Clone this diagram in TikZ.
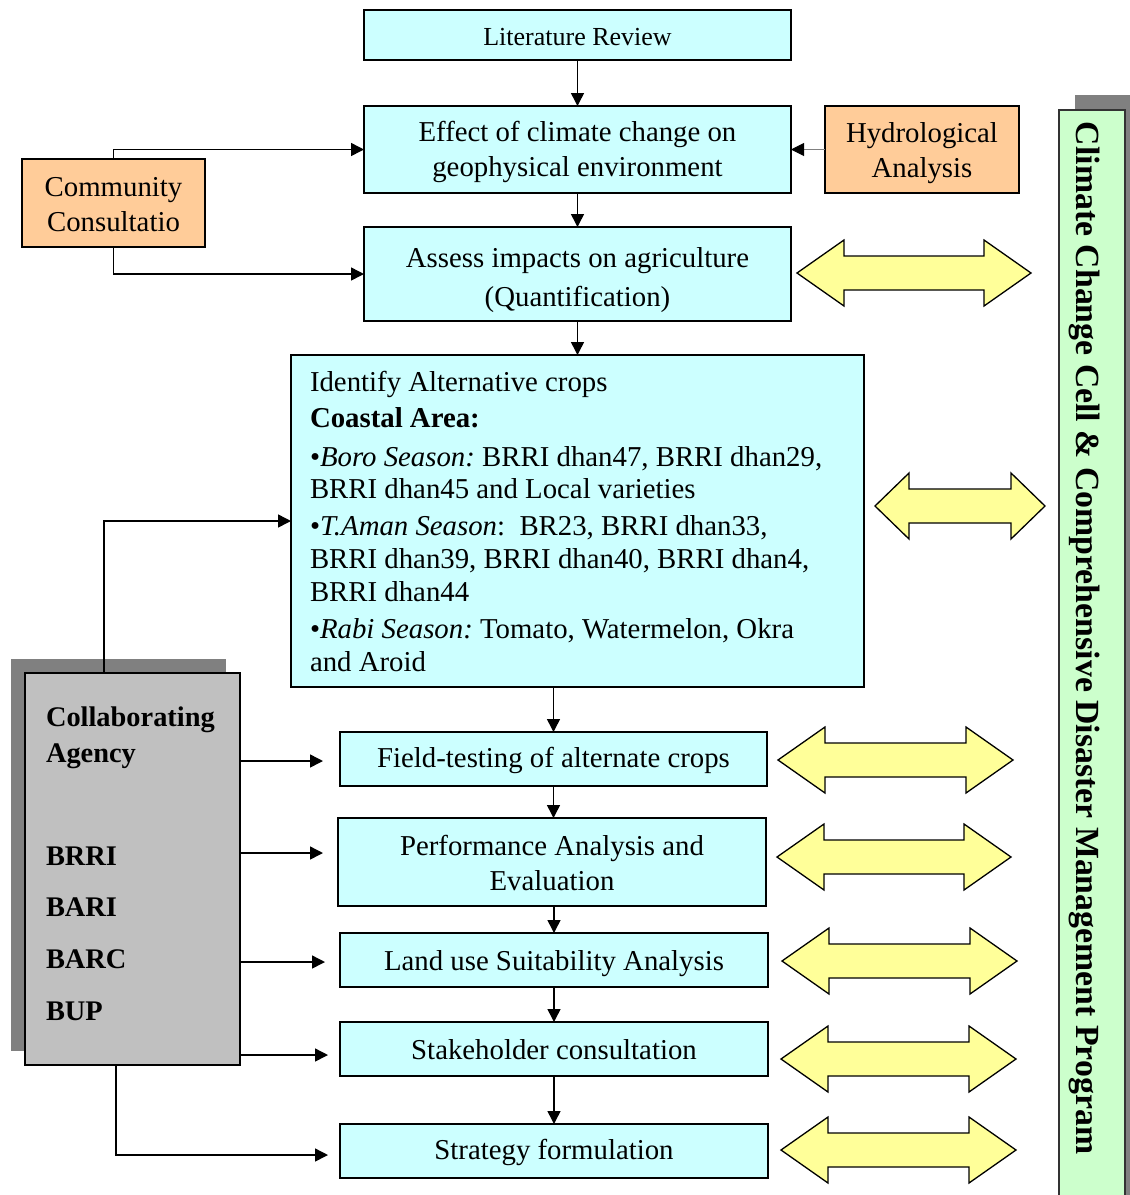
\documentclass[tikz,border=0pt]{standalone}
\usepackage{fontspec}
\setmainfont{Liberation Serif}
\usetikzlibrary{arrows.meta,calc}
\definecolor{cyanbox}{HTML}{CCFFFF}
\definecolor{orangebox}{HTML}{FFCC99}
\definecolor{yellowarr}{HTML}{FFFF99}
\definecolor{greenbar}{HTML}{CCFFCC}
\definecolor{greybox}{HTML}{C0C0C0}
\definecolor{shadowgrey}{HTML}{808080}
\newcommand\yarrow[4]{% left tip x, right tip x, centre y, head length
  \draw[dblarr] (#1,#3) -- ({#1+#4},{#3-33}) -- ({#1+#4},{#3-17}) -- ({#2-#4},{#3-17})
    -- ({#2-#4},{#3-33}) -- (#2,#3) -- ({#2-#4},{#3+33}) -- ({#2-#4},{#3+17})
    -- ({#1+#4},{#3+17}) -- ({#1+#4},{#3+33}) -- cycle;}
\newcommand\tstrut[1]{\rule{0pt}{#1pt}}
\begin{document}
\begin{tikzpicture}[x=1pt,y=-1pt,
  every node/.style={inner sep=0pt, outer sep=0pt},
  box/.style={draw=black, line width=1.5pt, fill=cyanbox, align=center,
    font=\fontsize{28.8}{35}\selectfont},
  obox/.style={box, fill=orangebox},
  conn/.style={line width=1.5pt, -{Triangle[length=13pt,width=13pt]}},
  dblarr/.style={draw=black, line width=1.3pt, fill=yellowarr, line join=miter},
]
\useasboundingbox (0,0) rectangle (1130,1195);
\clip (0,0) rectangle (1130,1195);

% right bar
\fill[shadowgrey] (1075,95) rectangle (1150,1220);
\node[draw=black!80, line width=1.3pt, fill=greenbar, minimum width=66pt,
  minimum height=1110pt, anchor=north west] (ccbar) at (1059,110) {};
\node[rotate=-90, font=\fontsize{33.8}{40}\selectfont\bfseries] (cctext) at (1084,638)
  {Climate Change Cell \& Comprehensive Disaster Management Program};

% top boxes
\node[box, minimum width=427pt, minimum height=50pt, font=\fontsize{26}{30}\selectfont]
  (lit) at (577.5,35) {\tstrut{21}Literature Review};
\node[box, minimum width=427pt, minimum height=87pt] (effect) at (577.5,149.5)
  {\tstrut{26}Effect of climate change on\\geophysical environment};
\node[obox, minimum width=194pt, minimum height=87pt] (hydro) at (922,149.5)
  {\tstrut{28}Hydrological\\Analysis};
\node[obox, minimum width=183pt, minimum height=88pt] (comm) at (113.5,203)
  {\tstrut{23}Community\\Consultatio};
\node[box, minimum width=427pt, minimum height=94pt] (assess) at (577.5,274)
  {\tstrut{32}Assess impacts on agriculture\\[4pt](Quantification)};

% identify box
\node[box, minimum width=573pt, minimum height=332pt, text width=535pt, align=flush left,
  font=\fontsize{28.8}{32.5}\selectfont] (ident) at (577.5,521)
  {\spaceskip=0pt\xspaceskip=0pt\frenchspacing
   Identify Alternative crops\\[4pt]
   \textbf{Coastal Area:}\\[6pt]
   •\textit{Boro Season:} BRRI dhan47, BRRI dhan29,\\
   BRRI dhan45 and Local varieties\\[4pt]
   •\textit{T.Aman Season}:\ \ BR23, BRRI dhan33,\\[1pt]
   BRRI dhan39, BRRI dhan40, BRRI dhan4,\\
   BRRI dhan44\\[5pt]
   •\textit{Rabi Season:} Tomato, Watermelon, Okra\\
   and Aroid};

% lower chain
\node[box, minimum width=427pt, minimum height=54pt] (field) at (553.5,759)
  {\tstrut{24}Field-testing of alternate crops};
\node[box, minimum width=428pt, minimum height=88pt] (perf) at (552,862)
  {\tstrut{22}Performance Analysis and\\Evaluation};
\node[box, minimum width=428pt, minimum height=54pt] (land) at (554,960)
  {\tstrut{28}Land use Suitability Analysis};
\node[box, minimum width=428pt, minimum height=54pt] (stake) at (554,1049)
  {\tstrut{22}Stakeholder consultation};
\node[box, minimum width=428pt, minimum height=54pt] (strat) at (554,1151)
  {\tstrut{24}Strategy formulation};

% collaborating agency
\fill[shadowgrey] (11,659) rectangle (226,1051);
\node[draw=black, line width=1.5pt, fill=greybox, minimum width=215pt, minimum height=392pt,
  text width=173pt, align=flush left, font=\fontsize{28.4}{36}\selectfont\bfseries]
  (collab) at (132.5,869)
  {Collaborating\\Agency\\[67pt]BRRI\\[15pt]BARI\\[16pt]BARC\\[16pt]BUP\rule[-10pt]{0pt}{0pt}};

% double arrows
\yarrow{797}{1031}{273}{47}
\yarrow{875}{1045}{506}{34}
\yarrow{778}{1013}{760}{47}
\yarrow{777}{1011}{857}{47}
\yarrow{782}{1017}{961}{47}
\yarrow{781}{1016}{1059}{47}
\yarrow{781}{1016}{1150}{47}

% connectors
\draw[conn] (lit.south) -- (effect.north);
\draw[line width=1pt, draw=gray, -{Triangle[length=13pt,width=13pt,color=black]}]
  (hydro.west) -- (effect.east);
\draw[conn] (comm.north) |- (effect.west);
\draw[conn] (comm.south) |- (assess.west);
\draw[conn] (effect.south) -- (assess.north);
\draw[conn] (assess.south) -- (ident.north);
\draw[conn] (ident.south -| field.north) -- (field.north);
\draw[conn] (field.south) -- (field.south |- perf.north);
\draw[conn] (perf.south -| land.north) -- (land.north);
\draw[conn] (land.south) -- (stake.north);
\draw[conn] (stake.south) -- (strat.north);

\coordinate (cup) at ([xshift=79pt]collab.north west);
\draw[conn] (cup) |- (ident.west);
\coordinate (fin) at ([yshift=-2pt]field.west);
\coordinate (pin) at ([yshift=9pt]perf.west);
\coordinate (lin) at ([yshift=-2pt]land.west);
\coordinate (sin) at ([yshift=-6pt]stake.west);
\coordinate (tin) at ([yshift=-4pt]strat.west);
\draw[conn, shorten >=17pt] (collab.east |- fin) -- (fin);
\draw[conn, shorten >=15pt] (collab.east |- pin) -- (pin);
\draw[conn, shorten >=15pt] (collab.east |- lin) -- (lin);
\draw[conn, shorten >=12pt] (collab.east |- sin) -- (sin);
\coordinate (cbot) at ([xshift=91pt]collab.south west);
\draw[conn, shorten >=12pt] (cbot) |- (tin);
\end{tikzpicture}
\end{document}
